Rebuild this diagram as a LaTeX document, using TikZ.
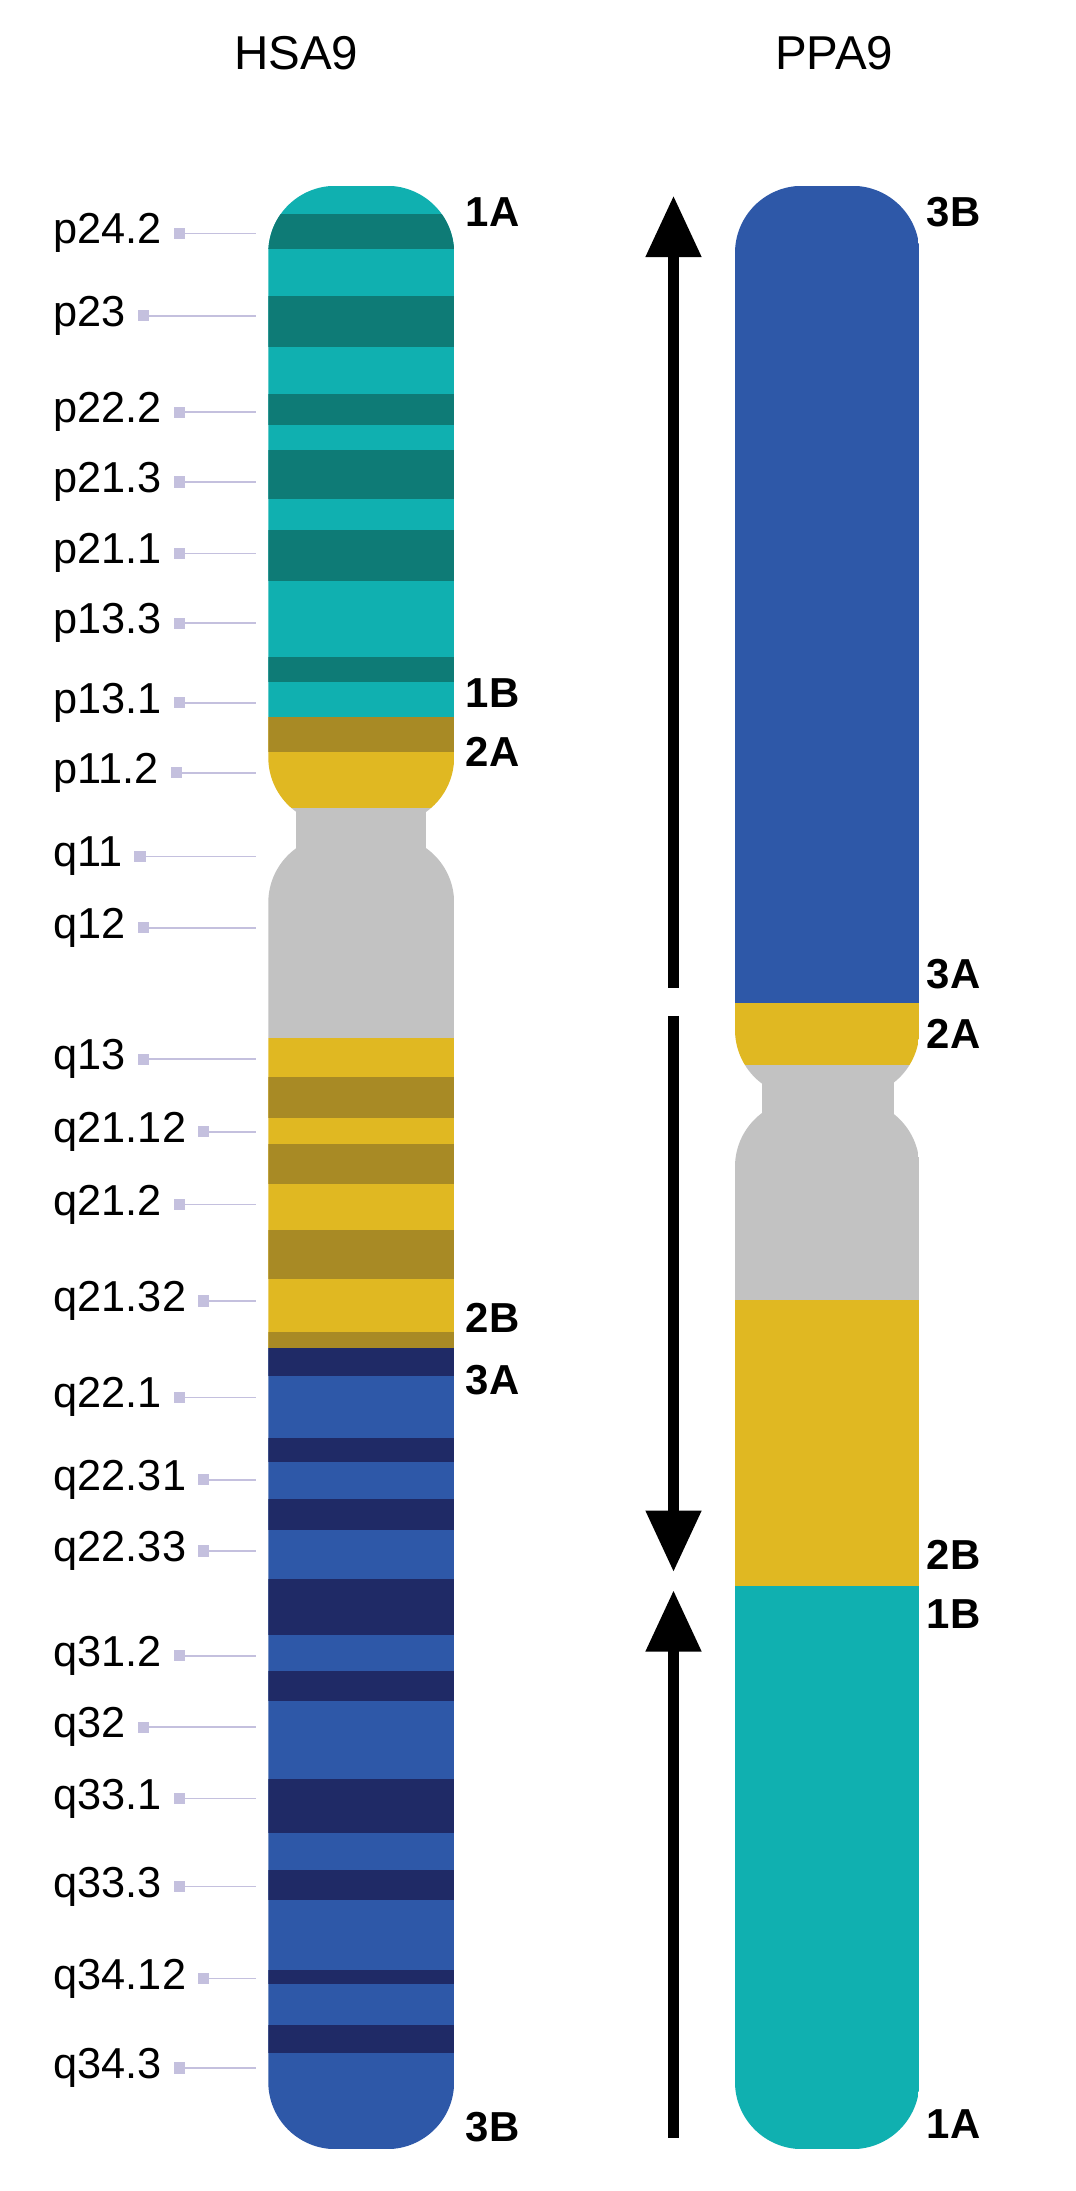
\documentclass[tikz,border=0pt]{standalone}
\usepackage{fontspec}
\setmainfont{Liberation Sans}
\usetikzlibrary{arrows.meta}
\definecolor{tl}{HTML}{10B0B0}\definecolor{td}{HTML}{0E7B76}
\definecolor{yl}{HTML}{E0B822}\definecolor{yd}{HTML}{A88A25}
\definecolor{gr}{HTML}{C2C2C2}\definecolor{bl}{HTML}{2E58A8}
\definecolor{bd}{HTML}{1F2A66}\definecolor{lav}{HTML}{C4C0DE}
\tikzset{band/.style={fill=#1,draw=none},
 lbl/.style={anchor=west,font=\fontsize{15.5}{18}\selectfont,inner sep=0pt},
 seg/.style={anchor=west,font=\fontsize{15}{18}\selectfont\bfseries,inner sep=0pt},
 ttl/.style={font=\fontsize{17}{20}\selectfont},
 arr/.style={line width=4pt,-{Triangle[length=22pt,width=19pt]}}}
\begin{document}
\begin{tikzpicture}[x=0.5pt,y=-0.5pt]
\useasboundingbox (0,0) rectangle (770,1568);
\fill[white] (0,0) rectangle (770,1568);
\node[ttl] (t1) at (212,38) {HSA9};
\node[ttl] (t2) at (597,38) {PPA9};
% HSA9 neck
\fill[gr] (212,570) rectangle (305,615);
% HSA9 p arm
\begin{scope}
\clip[rounded corners=24pt] (192,133) rectangle (325,590);
\fill[tl] (192,133) rectangle (325,513);
\foreach \a/\b in {153/178,212/248,282/304,322/357,379/416,470/488} \fill[band=td] (192,\a) rectangle (325,\b);
\fill[yl] (192,513) rectangle (325,578);
\fill[yd] (192,513) rectangle (325,538);
\fill[gr] (192,578) rectangle (325,590);
\end{scope}
% HSA9 q arm
\begin{scope}
\clip[rounded corners=24pt] (192,598) rectangle (325,1538);
\fill[gr] (192,598) rectangle (325,743);
\fill[yl] (192,743) rectangle (325,965);
\foreach \a/\b in {771/800,819/847,880/915,953/965} \fill[band=yd] (192,\a) rectangle (325,\b);
\fill[bl] (192,965) rectangle (325,1538);
\foreach \a/\b in {965/985,1029/1046,1073/1095,1130/1170,1196/1217,1273/1312,1338/1360,1410/1420,1449/1469} \fill[band=bd] (192,\a) rectangle (325,\b);
\end{scope}
% band labels
\foreach \t/\y [count=\i] in {p24.2/167,p23/226,p22.2/295,p21.3/345,p21.1/396,p13.3/446,p13.1/503,p11.2/553,q11/613,q12/664,q13/758,q21.12/810,q21.2/862,q21.32/931,q22.1/1000,q22.31/1059,q22.33/1110,q31.2/1185,q32/1236,q33.1/1287,q33.3/1350,q34.12/1416,q34.3/1480}{
 \node[lbl] (L\i) at (38,\y) {\t};
 \coordinate (E\i) at (183,\y);
 \draw[lav,line width=0.6pt] ([xshift=6pt]L\i.east|-E\i) -- (E\i);
 \fill[lav] ([xshift=4pt]L\i.east|-E\i) ++(0,-4) rectangle ++(8,8);
}
\foreach \t/\y [count=\i] in {1A/152,1B/496,2A/538,2B/943,3A/988,3B/1522} \node[seg] (H\i) at (333,\y) {\t};
% PPA9
\fill[gr] (545,750) rectangle (640,800);
\begin{scope}
\clip[rounded corners=24pt] (526,133) rectangle (658,785);
\fill[bl] (526,133) rectangle (658,718);
\fill[yl] (526,718) rectangle (658,762);
\fill[gr] (526,762) rectangle (658,785);
\end{scope}
\begin{scope}
\clip[rounded corners=24pt] (526,787) rectangle (658,1538);
\fill[gr] (526,787) rectangle (658,930);
\fill[yl] (526,930) rectangle (658,1135);
\fill[tl] (526,1135) rectangle (658,1538);
\end{scope}
\foreach \t/\y [count=\i] in {3B/152,3A/697,2A/740,2B/1113,1B/1155,1A/1520} \node[seg] (P\i) at (663,\y) {\t};
% arrows
\coordinate (a1) at (482,707); \coordinate (a2) at (482,140);
\coordinate (b1) at (482,727); \coordinate (b2) at (482,1125);
\coordinate (c1) at (482,1530); \coordinate (c2) at (482,1138);
\draw[arr] (a1) -- (a2);
\draw[arr] (b1) -- (b2);
\draw[arr] (c1) -- (c2);
\end{tikzpicture}
\end{document}
